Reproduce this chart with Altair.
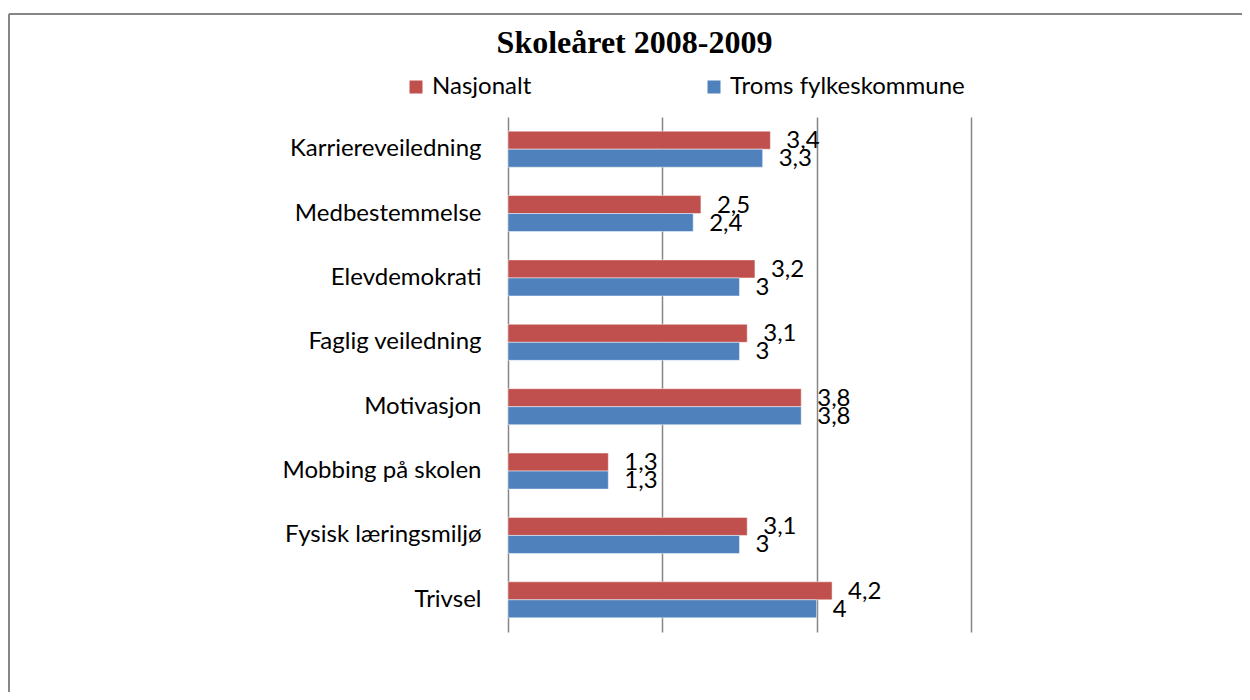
import altair as alt
import pandas as pd

categories = ["Karriereveiledning", "Medbestemmelse", "Elevdemokrati", "Faglig veiledning",
              "Motivasjon", "Mobbing på skolen", "Fysisk læringsmiljø", "Trivsel"]
nasjonalt = [3.4, 2.5, 3.2, 3.1, 3.8, 1.3, 3.1, 4.2]
troms = [3.3, 2.4, 3.0, 3.0, 3.8, 1.3, 3.0, 4.0]
series = ["Nasjonalt", "Troms fylkeskommune"]
colors = ["#C0504D", "#4F81BD"]
x_ticks = [0, 2, 4, 6]


def fmt(v):
    return f"{v:g}".replace(".", ",")


rows = []
for c, a, b in zip(categories, nasjonalt, troms):
    rows.append(dict(cat=c, serie=series[0], val=a, lab=fmt(a)))
    rows.append(dict(cat=c, serie=series[1], val=b, lab=fmt(b)))
df = pd.DataFrame(rows)

FONT = "Lato"
FS = 24

base = alt.Chart(df).encode(
    y=alt.Y("cat:N", sort=categories,
            scale=alt.Scale(paddingInner=0.44, paddingOuter=0.22),
            axis=alt.Axis(title=None, domain=False, ticks=False, labelPadding=27,
                          labelFontSize=FS, labelFont=FONT, labelColor="black",
                          labelLimit=0, grid=False)),
    yOffset=alt.YOffset("serie:N", sort=series,
                        scale=alt.Scale(paddingInner=0, paddingOuter=0)),
)

bars = base.mark_bar(stroke="white", strokeWidth=0.8, strokeOpacity=0.6).encode(
    x=alt.X("val:Q", scale=alt.Scale(domain=[0, 6], nice=False),
            axis=alt.Axis(values=x_ticks, labels=False, ticks=False, domain=False, title=None,
                          grid=True, gridColor="#868686", gridWidth=1.5, gridOpacity=1)),
    color=alt.Color("serie:N", sort=series,
                    scale=alt.Scale(domain=series, range=colors),
                    legend=alt.Legend(orient="none", legendX=-104, legendY=-42,
                                      direction="horizontal", title=None,
                                      symbolType="square", symbolSize=169,
                                      symbolStrokeWidth=0, labelFontSize=FS,
                                      labelFont=FONT, labelColor="black", labelLimit=0,
                                      labelOffset=4, columnPadding=170, padding=0)),
)

labels = base.mark_text(align="left", baseline="middle", dx=16, dy=1,
                        fontSize=FS, font=FONT, color="black").encode(
    x=alt.X("val:Q"),
    text="lab:N",
)

border_df = pd.DataFrame({"k": [0]})
border_top = alt.Chart(border_df).mark_rule(color="#868686", strokeWidth=2).encode(
    x=alt.value(-499), x2=alt.value(760), y=alt.value(-103), y2=alt.value(-103))
border_left = alt.Chart(border_df).mark_rule(color="#868686", strokeWidth=2).encode(
    x=alt.value(-499), x2=alt.value(-499), y=alt.value(-103), y2=alt.value(600))

chart = alt.layer(border_top, border_left, bars, labels).properties(
    width=463,
    height=515,
    padding={"left": 500, "top": 109, "right": 271, "bottom": 60},
    autosize=alt.AutoSizeParams(type="none"),
    title=alt.TitleParams("Skoleåret 2008-2009", font="Liberation Serif", fontSize=32,
                          fontWeight="bold", color="black", anchor="middle", dx=-105,
                          offset=10, dy=57),
).configure_view(stroke=None)

chart.save("out.html", embed_options={"renderer": "svg", "actions": False})
